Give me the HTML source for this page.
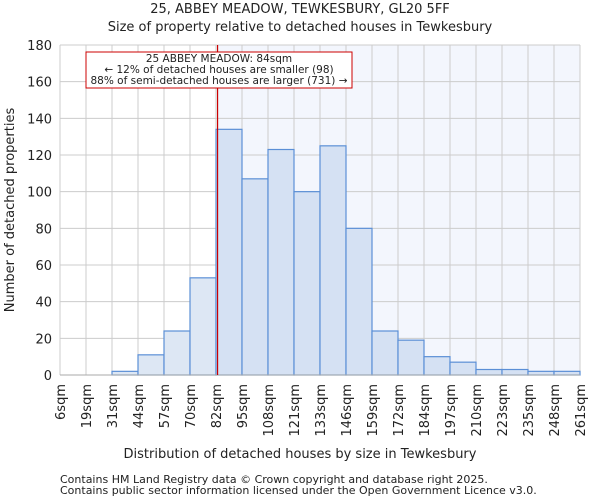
<!DOCTYPE html>
<html><head><meta charset="utf-8"><style>
body{margin:0;background:#fff;font-family:"DejaVu Sans","Liberation Sans",sans-serif}
text{font-family:"DejaVu Sans","Liberation Sans",sans-serif;fill:#222}
</style></head><body>
<svg id="c" width="600" height="500">
<text x="300" y="13" text-anchor="middle" font-size="13">25, ABBEY MEADOW, TEWKESBURY, GL20 5FF</text>
<text x="300" y="31" text-anchor="middle" font-size="13">Size of property relative to detached houses in Tewkesbury</text>
<g id="plot"></g>
<text x="300" y="458" text-anchor="middle" font-size="13">Distribution of detached houses by size in Tewkesbury</text>
<text transform="translate(14,210) rotate(-90)" text-anchor="middle" font-size="13">Number of detached properties</text>
<text x="60" y="483" font-size="11" fill="#444">Contains HM Land Registry data © Crown copyright and database right 2025.</text>
<text x="60" y="494" font-size="11" fill="#444">Contains public sector information licensed under the Open Government Licence v3.0.</text>
</svg>
<script>
const categories=["6sqm","19sqm","31sqm","44sqm","57sqm","70sqm","82sqm","95sqm","108sqm","121sqm","133sqm","146sqm","159sqm","172sqm","184sqm","197sqm","210sqm","223sqm","235sqm","248sqm","261sqm"];
const counts=[0,0,2,11,24,53,134,107,123,100,125,80,24,19,10,7,3,3,2,2];
const yTicks=[0,20,40,60,80,100,120,140,160,180];
const binStart=6, binWidth=12.75, propertySize=84;
const L=60,R=580,T=45,B=375,ns="http://www.w3.org/2000/svg";
const xs=i=>L+(R-L)*i/counts.length;
const xv=v=>L+(v-binStart)/binWidth*(R-L)/counts.length;
const ys=v=>B-(B-T)*v/180;
const g=document.getElementById('plot');
function mk(t,a){const e=document.createElementNS(ns,t);for(const k in a)e.setAttribute(k,a[k]);g.appendChild(e);return e;}
const px=xv(propertySize)-1.5;
let e=mk('rect',{x:px,y:T,width:R-px,height:B-T,fill:'#f3f6fd'});


yTicks.forEach(v=>{let l=mk('line',{x1:L,x2:R,y1:ys(v),y2:ys(v),stroke:'#ccc'});


let t=mk('text',{x:L-8,y:ys(v)+5,'text-anchor':'end','font-size':13});t.textContent=v;

});
categories.forEach((c,i)=>{let l=mk('line',{x1:xs(i),x2:xs(i),y1:T,y2:B,stroke:'#ccc'});


let t=mk('text',{transform:`translate(${xs(i)+5},384) rotate(-90)`,'text-anchor':'end','font-size':13});t.textContent=c;

});
counts.forEach((v,i)=>{const right=xs(i)>=px-3;let r=mk('rect',{x:xs(i),y:ys(v),width:xs(i+1)-xs(i),height:B-ys(v),fill:right?'#d5e1f3':'#dde7f4',stroke:'#5b8fd6','stroke-width':1.2});

});
let ax=mk('line',{x1:L,x2:R,y1:B,y2:B,stroke:'#aaa'});


let pl=mk('line',{x1:px,x2:px,y1:T,y2:B,stroke:'#cc0000','stroke-width':1.2});


let bx=mk('rect',{x:86,y:52,width:266,height:36,fill:'#fff',stroke:'#cc0000'});


["25 ABBEY MEADOW: 84sqm","← 12% of detached houses are smaller (98)","88% of semi-detached houses are larger (731) →"].forEach((s,i)=>{let t=mk('text',{x:219,y:62+i*11,'text-anchor':'middle','font-size':10.5});t.textContent=s;

});
</script>
</body></html>
